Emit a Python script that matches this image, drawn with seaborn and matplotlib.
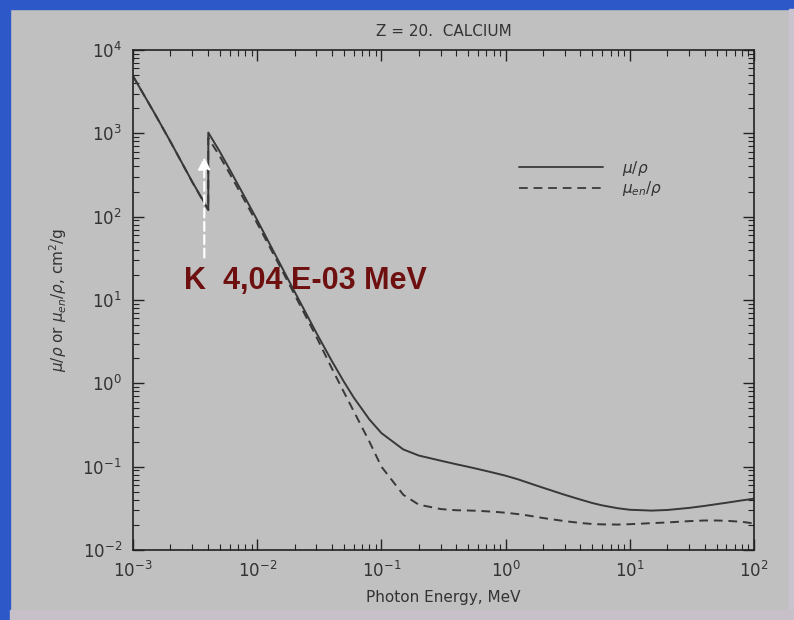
import pandas as pd
import seaborn as sns
import matplotlib.pyplot as plt
from matplotlib.patches import Rectangle

# photon energy in MeV (K edge listed twice: below / above)
energy = [1e-3, 1.5e-3, 2e-3, 3e-3, 4e-3, 4.0381e-3, 4.0381e-3, 5e-3, 6e-3, 8e-3,
          1e-2, 1.5e-2, 2e-2, 3e-2, 4e-2, 5e-2, 6e-2, 8e-2, 0.1, 0.15, 0.2, 0.3,
          0.4, 0.5, 0.6, 0.8, 1.0, 1.25, 1.5, 2, 3, 4, 5, 6, 8, 10, 15, 20, 30,
          40, 50, 60, 80, 100]
mu_rho = [4867, 1714, 797.8, 262.0, 125.0, 122.0, 1023, 602.0, 368.9, 168.5,
          91.1, 28.6, 12.6, 4.01, 1.84, 1.04, 0.673, 0.369, 0.253, 0.161, 0.136,
          0.118, 0.107, 0.0996, 0.0936, 0.0846, 0.0779, 0.0707, 0.0645, 0.0559,
          0.0459, 0.0403, 0.0366, 0.0343, 0.0317, 0.0304, 0.0297, 0.0302, 0.0320,
          0.0338, 0.0355, 0.0369, 0.0394, 0.0413]
muen_rho = [4863, 1710, 795, 260, 123, 120, 880, 530, 330, 152,
            83, 26.5, 11.6, 3.6, 1.5, 0.78, 0.46, 0.2, 0.1, 0.046, 0.035,
            0.031, 0.030, 0.0298, 0.0295, 0.0288, 0.0280, 0.0270, 0.026, 0.0242,
            0.0222, 0.0211, 0.0205, 0.0203, 0.0202, 0.0204, 0.0210, 0.0214, 0.0222,
            0.0226, 0.0226, 0.0224, 0.0218, 0.0208]
series_names = [r'$\mu/\rho$', r'$\mu_{en}/\rho$']

k_edge = 3.75e-3
arrow_from, arrow_to = 30, 560
k_label = "K  4,04 E-03 MeV"

df = pd.concat([
    pd.DataFrame({"E": energy, "val": mu_rho, "series": series_names[0]}),
    pd.DataFrame({"E": energy, "val": muen_rho, "series": series_names[1]}),
])

bg = "#c0c0c0"
ink = "#383838"

sns.set_style("ticks")
fig = plt.figure(figsize=(7.94, 6.2), dpi=100, facecolor=bg)
ax = fig.add_axes([133 / 794, 1 - 550 / 620, 621 / 794, 500 / 620])
ax.set_facecolor(bg)

sns.lineplot(data=df, x="E", y="val", style="series", sort=False, estimator=None,
             dashes={series_names[0]: "", series_names[1]: (4.5, 3)},
             color=ink, linewidth=1.4, ax=ax)

ax.set_xscale("log")
ax.set_yscale("log")
ax.set_xlim(1e-3, 1e2)
ax.set_ylim(1e-2, 1e4)

ax.tick_params(which="both", direction="in", top=True, right=True,
               colors="#222222", labelcolor="#333333", labelsize=12, pad=8)
ax.tick_params(which="major", length=8, width=1)
ax.tick_params(which="minor", length=4, width=0.8)
for s in ax.spines.values():
    s.set_color("#222222")
    s.set_linewidth(1.2)

ax.set_title("Z = 20.  CALCIUM", color="#333333", fontsize=11, pad=10,
             family="DejaVu Sans")
ax.set_xlabel("Photon Energy, MeV", color="#333333", fontsize=11, labelpad=6)
ax.set_ylabel(r"$\mu/\rho$ or $\mu_{en}/\rho$, cm$^2$/g", color="#333333",
              fontsize=11, labelpad=10)

# K edge annotation
ax.annotate("", xy=(k_edge, arrow_to), xytext=(k_edge, arrow_from),
            arrowprops=dict(arrowstyle="-|>", color="white", lw=1.6,
                            linestyle=(0, (4, 2)), mutation_scale=18))
ax.text(2.58e-3, 17, k_label, color="#6e1010", fontsize=22,
        family="Liberation Sans", fontweight="bold", va="center", ha="left")

leg = ax.legend(loc="upper left", bbox_to_anchor=(0.6, 0.81), frameon=False,
                handlelength=5.5, fontsize=11, labelspacing=0.1,
                handletextpad=1.2)
for t in leg.get_texts():
    t.set_color("#333333")
for h in leg.get_lines():
    h.set_color("#444444")

# window frame strips
fig.patches.append(Rectangle((0, 0), 10 / 794, 1, transform=fig.transFigure,
                             color="#2c58c8", zorder=0))
fig.patches.append(Rectangle((0, 1 - 9 / 620), 1, 9 / 620, transform=fig.transFigure,
                             color="#2c58c8", zorder=0))
fig.patches.append(Rectangle((789 / 794, 0), 5 / 794, 1 - 9 / 620,
                             transform=fig.transFigure, color="#cac2cc", zorder=0))
fig.patches.append(Rectangle((10 / 794, 0), 1, 10 / 620, transform=fig.transFigure,
                             color="#c8c0c8", zorder=0))

fig.savefig("out.png", dpi=100, facecolor=bg)
